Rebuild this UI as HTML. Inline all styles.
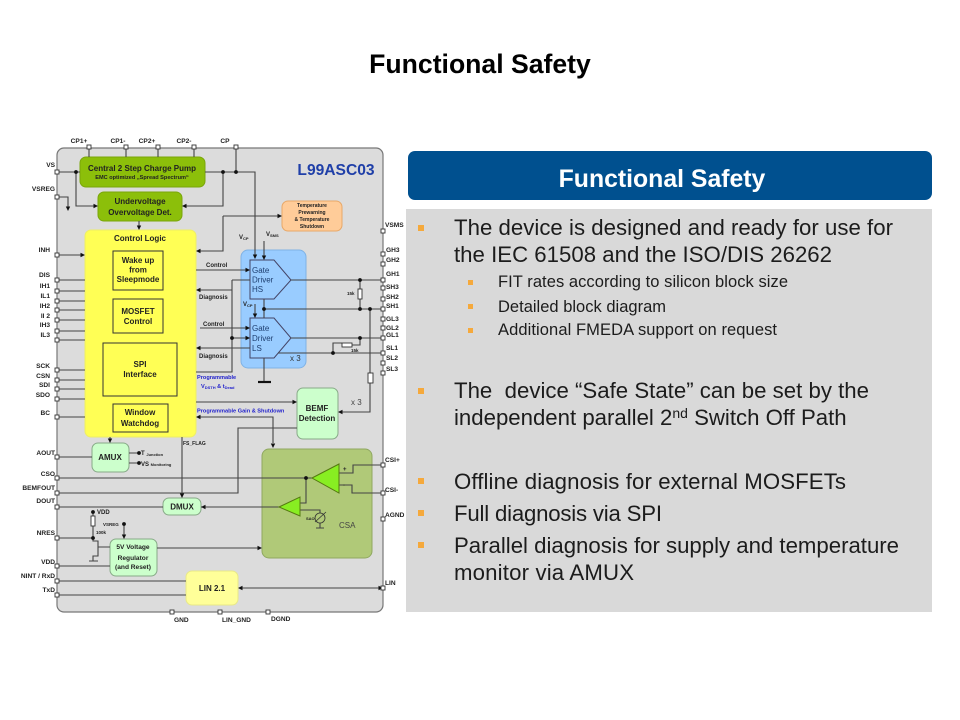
<!DOCTYPE html>
<html><head><meta charset="utf-8"><title>Functional Safety</title>
<style>
html,body{margin:0;padding:0;background:#fff;width:960px;height:720px;overflow:hidden}
svg{display:block;font-family:"Liberation Sans",sans-serif}
.w{fill:none;stroke:#444;stroke-width:1.1}
.t{font-size:6.6px;font-weight:bold;fill:#222}
.m{font-size:8px;font-weight:bold;fill:#222;text-anchor:middle}
.s{font-size:6px;font-weight:bold;fill:#222}
.b{font-size:5.6px;font-weight:bold;fill:#2222cc}
.h{font-size:22.2px;fill:#1c1c1c}
.u{font-size:16.5px;fill:#1c1c1c}
.box{fill:none;stroke:#333;stroke-width:1}
</style></head><body>
<svg width="960" height="720" viewBox="0 0 960 720" xmlns="http://www.w3.org/2000/svg">
<defs>
<rect id="p" x="-2" y="-2" width="4" height="4" fill="#fff" stroke="#333" stroke-width=".9"/>
<circle id="d" r="1.9" fill="#111"/>
<path id="ar" d="M0 0l-4.5-2.2v4.4z" fill="#111"/>
<path id="al" d="M0 0l4.5-2.2v4.4z" fill="#111"/>
<path id="ad" d="M0 0l-2.2-4.5h4.4z" fill="#111"/>
</defs>
<text x="480" y="73" font-size="26.6px" font-weight="bold" text-anchor="middle" fill="#000">Functional Safety</text>

<!-- chip -->
<rect x="57" y="148" width="326" height="464" rx="7" fill="#dcdcdc" stroke="#777" stroke-width="1.2"/>
<text x="336" y="175" font-size="15.6px" font-weight="bold" fill="#1f3fa8" text-anchor="middle">L99ASC03</text>

<!-- blocks -->
<rect x="241" y="250" width="65" height="118" rx="7" fill="#99ccff" stroke="#7fb2e5"/>
<rect x="262" y="449" width="110" height="109" rx="7" fill="#b0c978" stroke="#8fa860"/>
<rect x="80" y="157" width="125" height="30" rx="6" fill="#8cbf0a" stroke="#7aa60a"/>
<rect x="98" y="192" width="84" height="29" rx="6" fill="#8cbf0a" stroke="#7aa60a"/>
<rect x="85" y="230" width="111" height="207" rx="6" fill="#ffff55" stroke="#eeee66"/>
<rect x="282" y="201" width="60" height="30" rx="6" fill="#ffcc99" stroke="#e8a868"/>
<rect x="297" y="388" width="41" height="51" rx="6" fill="#ccffcc" stroke="#88aa88"/>
<rect x="92" y="443" width="37" height="29" rx="6" fill="#ccffcc" stroke="#88aa88"/>
<rect x="163" y="498" width="38" height="17" rx="6" fill="#ccffcc" stroke="#88aa88"/>
<rect x="110" y="539" width="47" height="37" rx="6" fill="#ccffcc" stroke="#88aa88"/>
<rect x="186" y="571" width="52" height="34" rx="6" fill="#ffff99" stroke="#e8e888"/>
<rect class="box" x="113" y="251" width="50" height="39"/>
<rect class="box" x="113" y="299" width="50" height="34"/>
<rect class="box" x="103" y="343" width="74" height="53"/>
<rect class="box" x="113" y="404" width="55" height="28"/>
<path d="M250 260H274L291 280L274 299H250Z" fill="#99ccff" stroke="#446" stroke-width="1"/>
<path d="M250 318H274L291 338L274 358H250Z" fill="#99ccff" stroke="#446" stroke-width="1"/>

<!-- wires -->
<path class="w" d="M89 147V157M126 147V157M158 147V157M194 147V157M236 147V172M57 172H80M76 172V206H94M57 197H68V207M205 172H255V255M223 172V206H186M223 216H278M223 216V251H200M139 221V226M57 255H81M57 280H85M57 291H85M57 301H85M57 310H85M57 320H85M57 331H85M57 340H85M57 370H85M57 380H85M57 389H85M57 399H85M57 417H85M196 270H246M200 290H232M232 280H250M232 280V372H196M200 328H246M232 338H246M200 348H250M264 241V256M264 299V318M255 304V314M264 358V381M291 280H383M291 338H383M264 309H383M360 280V289M360 299V309M370 309V373M370 383V412H342M278 353H383M333 353V343H342M352 345H360V338M200 417H273V443M196 402H293M297 428H238V493H57M182 437V494M110 437V439M57 457H92M129 453H139M129 463H139M57 478H312M306 478V503H300M201 507H279M57 507H163M339 473H353V465H383M339 485H352V493H383M300 510H320V513M320 523V528M316 528H324M57 538H93M93 512V516M93 526V538M93 538V541H98V556H93V561M89 561H98M98 547H110M124 524V535M157 548H258M57 566H110M57 581H186M57 595H186M242 588H379"/>
<path d="M258 382H271" stroke="#111" stroke-width="2.2"/>

<!-- arrows -->
<use href="#ar" x="98" y="206"/><use href="#ad" x="68" y="211"/><use href="#ad" x="255" y="259"/>
<use href="#al" x="182" y="206"/><use href="#ar" x="282" y="216"/><use href="#al" x="196" y="251"/>
<use href="#ad" x="139" y="230"/><use href="#ar" x="85" y="255"/><use href="#ar" x="250" y="270"/>
<use href="#al" x="196" y="290"/><use href="#ar" x="250" y="328"/><use href="#ar" x="250" y="338"/>
<use href="#al" x="196" y="348"/><use href="#ad" x="264" y="260"/><use href="#ad" x="255" y="318"/>
<use href="#al" x="196" y="417"/><use href="#ad" x="273" y="448"/><use href="#ar" x="297" y="402"/>
<use href="#al" x="338" y="412"/><use href="#ad" x="182" y="498"/><use href="#ad" x="110" y="443"/>
<use href="#al" x="201" y="507"/><use href="#ad" x="124" y="539"/><use href="#ar" x="262" y="548"/>
<use href="#al" x="238" y="588"/><use href="#ar" x="383" y="588"/>

<!-- dots -->
<use href="#d" x="76" y="172"/><use href="#d" x="223" y="172"/><use href="#d" x="236" y="172"/>
<use href="#d" x="360" y="280"/><use href="#d" x="264" y="309"/><use href="#d" x="360" y="309"/><use href="#d" x="370" y="309"/>
<use href="#d" x="232" y="338"/><use href="#d" x="360" y="338"/><use href="#d" x="333" y="353"/>
<use href="#d" x="139" y="453"/><use href="#d" x="139" y="463"/><use href="#d" x="306" y="478"/>
<use href="#d" x="93" y="512"/><use href="#d" x="93" y="538"/><use href="#d" x="124" y="524"/>

<!-- resistors -->
<g fill="#fff" stroke="#333" stroke-width=".9">
<rect x="358" y="289" width="4" height="10"/><rect x="342" y="343" width="10" height="4"/>
<rect x="368" y="373" width="5" height="10"/><rect x="91" y="516" width="4" height="10"/>
</g>

<!-- amps -->
<path d="M312 478L339 464V493Z" fill="#88ee22" stroke="#557a10" stroke-width="1"/>
<path d="M279 507L300 497V516Z" fill="#88ee22" stroke="#557a10" stroke-width="1"/>
<circle cx="320" cy="518" r="5" fill="#b0c978" stroke="#333" stroke-width=".8"/>
<path d="M315 522L326 512" stroke="#333" stroke-width=".8"/>

<!-- pins -->
<g>
<use href="#p" x="89" y="147"/><use href="#p" x="126" y="147"/><use href="#p" x="158" y="147"/><use href="#p" x="194" y="147"/><use href="#p" x="236" y="147"/>
<use href="#p" x="57" y="172"/><use href="#p" x="57" y="197"/><use href="#p" x="57" y="255"/><use href="#p" x="57" y="280"/><use href="#p" x="57" y="291"/><use href="#p" x="57" y="301"/><use href="#p" x="57" y="310"/><use href="#p" x="57" y="320"/><use href="#p" x="57" y="331"/><use href="#p" x="57" y="340"/><use href="#p" x="57" y="370"/><use href="#p" x="57" y="380"/><use href="#p" x="57" y="389"/><use href="#p" x="57" y="399"/><use href="#p" x="57" y="417"/><use href="#p" x="57" y="457"/><use href="#p" x="57" y="478"/><use href="#p" x="57" y="493"/><use href="#p" x="57" y="507"/><use href="#p" x="57" y="538"/><use href="#p" x="57" y="566"/><use href="#p" x="57" y="581"/><use href="#p" x="57" y="595"/>
<use href="#p" x="383" y="231"/><use href="#p" x="383" y="254"/><use href="#p" x="383" y="264"/><use href="#p" x="383" y="280"/><use href="#p" x="383" y="288"/><use href="#p" x="383" y="299"/><use href="#p" x="383" y="309"/><use href="#p" x="383" y="319"/><use href="#p" x="383" y="328"/><use href="#p" x="383" y="338"/><use href="#p" x="383" y="353"/><use href="#p" x="383" y="363"/><use href="#p" x="383" y="373"/><use href="#p" x="383" y="465"/><use href="#p" x="383" y="493"/><use href="#p" x="383" y="519"/><use href="#p" x="383" y="588"/>
<use href="#p" x="172" y="612"/><use href="#p" x="220" y="612"/><use href="#p" x="268" y="612"/>
</g>

<!-- pin labels -->
<g class="t" text-anchor="middle">
<text x="79" y="143">CP1+</text><text x="118" y="143">CP1-</text><text x="147" y="143">CP2+</text><text x="184" y="143">CP2-</text><text x="225" y="143">CP</text>
</g>
<g class="t" text-anchor="end">
<text x="55" y="167">VS</text><text x="55" y="191">VSREG</text><text x="50" y="252">INH</text><text x="50" y="277">DIS</text><text x="50" y="288">IH1</text><text x="50" y="298">IL1</text><text x="50" y="308">IH2</text><text x="50" y="318">II 2</text><text x="50" y="327">IH3</text><text x="50" y="337">IL3</text>
<text x="50" y="368">SCK</text><text x="50" y="378">CSN</text><text x="50" y="387">SDI</text><text x="50" y="397">SDO</text><text x="50" y="415">BC</text><text x="55" y="455">AOUT</text><text x="55" y="476">CSO</text><text x="55" y="490">BEMFOUT</text><text x="55" y="503">DOUT</text><text x="55" y="535">NRES</text><text x="55" y="564">VDD</text><text x="55" y="578">NINT / RxD</text><text x="55" y="592">TxD</text>
</g>
<g class="t">
<text x="385" y="227">VSMS</text><text x="386" y="252">GH3</text><text x="386" y="262">GH2</text><text x="386" y="276">GH1</text><text x="386" y="289">SH3</text><text x="386" y="299">SH2</text><text x="386" y="308">SH1</text><text x="386" y="321">GL3</text><text x="386" y="330">GL2</text><text x="386" y="337">GL1</text><text x="386" y="350">SL1</text><text x="386" y="360">SL2</text><text x="386" y="371">SL3</text><text x="385" y="462">CSI+</text><text x="385" y="492">CSI-</text><text x="385" y="517">AGND</text><text x="385" y="585">LIN</text>
<text x="174" y="622">GND</text><text x="222" y="622">LIN_GND</text><text x="271" y="621">DGND</text>
</g>

<!-- block labels -->
<text class="m" x="142" y="171">Central 2 Step Charge Pump</text>
<text x="142" y="179" font-size="5.6px" font-weight="bold" fill="#222" text-anchor="middle">EMC optimized „Spread Spectrum“</text>
<text class="m" x="140" y="204">Undervoltage</text><text class="m" x="140" y="215">Overvoltage Det.</text>
<text class="m" x="140" y="241">Control Logic</text>
<text class="m" x="138" y="263">Wake up</text><text class="m" x="138" y="272.500">from</text><text class="m" x="138" y="282">Sleepmode</text>
<text class="m" x="138" y="314">MOSFET</text><text class="m" x="138" y="324">Control</text>
<text class="m" x="140" y="367">SPI</text><text class="m" x="140" y="377">Interface</text>
<text class="m" x="140" y="415">Window</text><text class="m" x="140" y="426">Watchdog</text>
<text class="m" x="110" y="460">AMUX</text><text class="m" x="182" y="509.500">DMUX</text>
<text class="m" x="212" y="591">LIN 2.1</text>
<text class="m" x="317" y="411">BEMF</text><text class="m" x="317" y="421">Detection</text>
<g class="t" text-anchor="middle" font-size="6.4">
<text x="133" y="549">5V Voltage</text><text x="133" y="560">Regulator</text><text x="133" y="569">(and Reset)</text>
</g>
<g font-size="5px" font-weight="bold" fill="#222" text-anchor="middle">
<text x="312" y="207">Temperature</text><text x="312" y="214">Prewarning</text><text x="312" y="221">&amp; Temperature</text><text x="312" y="228">Shutdown</text>
</g>
<g font-size="8px" fill="#1f3f70">
<text x="252" y="273">Gate</text><text x="252" y="282.500">Driver</text><text x="252" y="292">HS</text>
<text x="252" y="331">Gate</text><text x="252" y="341">Driver</text><text x="252" y="351">LS</text>
</g>
<text x="290" y="361" font-size="8px" fill="#333">x 3</text>
<text x="351" y="405" font-size="8px" fill="#444">x 3</text>
<text x="339" y="528" font-size="8px" fill="#444">CSA</text>
<g class="s">
<text x="206" y="267">Control</text><text x="199" y="299">Diagnosis</text><text x="203" y="326">Control</text><text x="199" y="358">Diagnosis</text>
<text x="183" y="445" font-size="5px">FS_FLAG</text>
<text x="239" y="239">V<tspan font-size="4" dy="1">CP</tspan></text>
<text x="266" y="236">V<tspan font-size="4" dy="1">SMS</tspan></text>
<text x="243" y="306">V<tspan font-size="4" dy="1">CP</tspan></text>
<text x="141" y="455">T <tspan font-size="4" dy="1">Junction</tspan></text>
<text x="141" y="466">VS <tspan font-size="4" dy="0">Monitoring</tspan></text>
<text x="97" y="514">VDD</text>
<text x="103" y="526" font-size="4.500px">VSREG</text>
<text x="96" y="534" font-size="4.500px">100k</text>
<text x="347" y="295" font-size="4.500px">15k</text>
<text x="351" y="352" font-size="4.500px">15k</text>
<text x="306" y="520" font-size="4px">SAO</text>
<text x="343" y="471">+</text><text x="343" y="487">-</text>
</g>
<g class="b">
<text x="197" y="379">Programmable</text>
<text x="201" y="388">V<tspan font-size="4" dy="1">DSTH</tspan><tspan dy="-1"> &amp; t</tspan><tspan font-size="4" dy="1">Dead</tspan></text>
<text x="197" y="412.500">Programmable Gain &amp; Shutdown</text>
</g>

<!-- right panel -->
<rect x="406" y="209" width="526" height="403" fill="#d9d9d9"/>
<rect x="408" y="151" width="524" height="49" rx="7" fill="#00508f"/>
<text x="662" y="187" font-size="24.8px" font-weight="bold" fill="#fff" text-anchor="middle">Functional Safety</text>
<g fill="#f5a93c">
<rect x="418" y="225" width="6" height="6"/><rect x="418" y="388" width="6" height="6"/><rect x="418" y="478" width="6" height="6"/><rect x="418" y="510" width="6" height="6"/><rect x="418" y="542" width="6" height="6"/>
<rect x="468" y="280" width="5" height="5"/><rect x="468" y="304" width="5" height="5"/><rect x="468" y="328" width="5" height="5"/>
</g>
<text class="h" x="454" y="235" textLength="439">The device is designed and ready for use for</text>
<text class="h" x="454" y="262" textLength="378">the IEC 61508 and the ISO/DIS 26262</text>
<text class="u" x="498" y="287" textLength="290">FIT rates according to silicon block size</text>
<text class="u" x="498" y="312" textLength="168">Detailed block diagram</text>
<text class="u" x="498" y="335" textLength="279">Additional FMEDA support on request</text>
<text class="h" x="454" y="398" textLength="415" xml:space="preserve">The  device “Safe State” can be set by the</text>
<text class="h" x="454" y="425">independent parallel 2<tspan font-size="14px" dy="-7">nd</tspan><tspan dy="7"> Switch Off Path</tspan></text>
<text class="h" x="454" y="489" textLength="392">Offline diagnosis for external MOSFETs</text>
<text class="h" x="454" y="521" textLength="208">Full diagnosis via SPI</text>
<text class="h" x="454" y="553" textLength="445">Parallel diagnosis for supply and temperature</text>
<text class="h" x="454" y="580" textLength="180">monitor via AMUX</text>
</svg>
</body></html>
